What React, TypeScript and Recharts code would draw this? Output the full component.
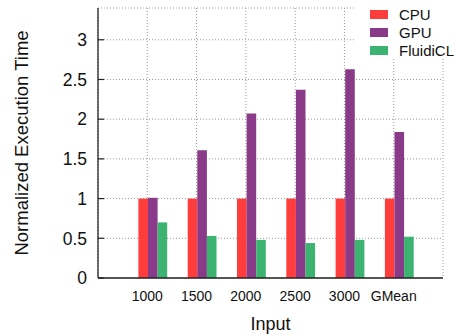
import React from 'react';
import {
  BarChart,
  Bar,
  XAxis,
  YAxis,
  CartesianGrid,
  Legend,
  Label,
} from 'recharts';

// values
const inputs = ['1000', '1500', '2000', '2500', '3000', 'GMean'];
const cpu = [1, 1, 1, 1, 1, 1];
const gpu = [1.01, 1.61, 2.07, 2.37, 2.63, 1.84];
const fluidicl = [0.7, 0.53, 0.48, 0.44, 0.48, 0.52];
const yTicks = [0, 0.5, 1, 1.5, 2, 2.5, 3];

const series = [
  { key: 'cpu', name: 'CPU', color: '#ff3d3d' },
  { key: 'gpu', name: 'GPU', color: '#893a89' },
  { key: 'fluidicl', name: 'FluidiCL', color: '#3cb371' },
];

const data = inputs.map((input, i) => ({
  input,
  cpu: cpu[i],
  gpu: gpu[i],
  fluidicl: fluidicl[i],
}));

const FONT = '"Liberation Sans", Arial, Helvetica, sans-serif';

const KeyBox = () => (
  <div style={{ fontFamily: FONT, fontSize: 15, color: '#111' }}>
    {series.map((s) => (
      <div key={s.key} style={{ display: 'flex', alignItems: 'center', height: 18.3 }}>
        <span
          style={{
            display: 'inline-block',
            width: 18,
            height: 9,
            background: s.color,
            marginLeft: 14,
            marginRight: 11,
          }}
        />
        <span>{s.name}</span>
      </div>
    ))}
  </div>
);

export default function App() {
  return (
    <div style={{ position: 'absolute', left: 0, top: 0, width: 455, height: 336, background: '#fff' }}>
      <BarChart
        width={455}
        height={336}
        data={data}
        margin={{ top: 8, right: 12, bottom: 0, left: 0 }}
        barGap={0}
      >
        <CartesianGrid stroke="#999" strokeDasharray="1 2" />
        <XAxis
          dataKey="input"
          height={58}
          padding={{ left: 24.6, right: 24.6 }}
          tickLine={false}
          tickSize={0}
          tickMargin={13.5}
          axisLine={{ stroke: '#222', strokeWidth: 1.3 }}
          tick={{ fill: '#111', fontSize: 14, fontFamily: FONT }}
        >
          <Label
            value="Input"
            position="insideBottom"
            offset={6}
            style={{ fill: '#111', fontSize: 18, fontFamily: FONT }}
          />
        </XAxis>
        <YAxis
          width={98}
          domain={[0, 3.4]}
          ticks={yTicks}
          tickSize={-6}
          tickMargin={17}
          tickLine={{ stroke: '#222', strokeWidth: 1.2 }}
          axisLine={{ stroke: '#222', strokeWidth: 1.3 }}
          tick={{ fill: '#111', fontSize: 17.5, fontFamily: FONT }}
        >
          <Label
            content={({ viewBox }: any) => {
              const cy = viewBox.y + viewBox.height / 2;
              return (
                <text
                  x={28}
                  y={cy}
                  transform={`rotate(-90, 28, ${cy})`}
                  textAnchor="middle"
                  fill="#111"
                  fontSize={18.5}
                  fontFamily={FONT}
                >
                  Normalized Execution Time
                </text>
              );
            }}
          />
        </YAxis>
        <Legend
          layout="vertical"
          align="center"
          verticalAlign="middle"
          content={() => <KeyBox />}
          wrapperStyle={{ top: 5, left: 356, width: 99, height: 53, background: '#fff' }}
        />
        {/* empty slot so the cluster sits right of the tick like the original */}
        <Bar dataKey="pad" barSize={10.8} legendType="none" isAnimationActive={false} />
        {series.map((s) => (
          <Bar
            key={s.key}
            dataKey={s.key}
            name={s.name}
            fill={s.color}
            barSize={9.6}
            isAnimationActive={false}
          />
        ))}
      </BarChart>
    </div>
  );
}
